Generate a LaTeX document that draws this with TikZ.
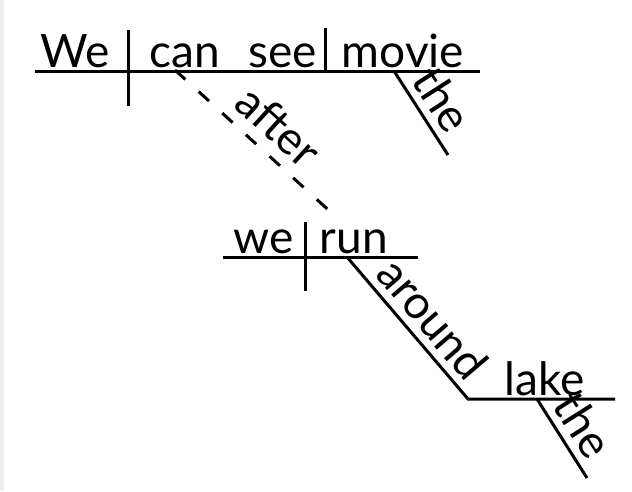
\documentclass[tikz,border=0pt]{standalone}
\usepackage{fontspec}
\setmainfont{Lato}
\begin{document}
\begin{tikzpicture}[x=1pt,y=-1pt,
  rule/.style={line width=3pt},
  dashrule/.style={line width=3pt,dash pattern=on 14pt off 18pt},
  word/.style={font=\fontsize{46}{54}\selectfont,inner sep=0pt,anchor=base},
  slword/.style={font=\fontsize{46}{54}\selectfont,inner sep=0pt,sloped,above=7pt}]
\useasboundingbox[fill=white] (0,0) rectangle (632,491);
\fill[black!7] (0,0) rectangle (4,491);
% main clause
\coordinate (tl) at (35,71);
\coordinate (tr) at (480,71);
\coordinate (v1t) at (128,30);
\coordinate (v1b) at (128,106);
\coordinate (v2t) at (325,28);
\coordinate (v2b) at (325,71);
\coordinate (the1a) at (394,71);
\coordinate (the1b) at (448,155);
\draw[rule] (the1a) -- (the1b) node[slword,pos=0.5] (the1) {the};
\draw[rule] (tl) -- (tr);
\draw[rule] (v1t) -- (v1b);
\draw[rule] (v2t) -- (v2b);
\node[word] (We) at (75,67) {We};
\node[word] (can) at (185,67) {can};
\node[word] (see) at (283,67) {see};
\node[word] (movie) at (403,67) {movie};
% subordinate connector
\coordinate (afa) at (175,70);
\coordinate (afb) at (335,216);
\draw[dashrule] (afa) -- (afb) node[slword,pos=0.53,above=3pt] (after) {after};
% subordinate clause
\coordinate (sl) at (223,257);
\coordinate (sr) at (418,257);
\coordinate (v3t) at (305,222);
\coordinate (v3b) at (305,291);
\draw[rule] (sl) -- (sr);
\draw[rule] (v3t) -- (v3b);
\node[word] (we) at (264,253) {we};
\node[word] (run) at (354,253) {run};
\coordinate (ara) at (347,257);
\coordinate (arb) at (468,399);
\coordinate (lr) at (615,399);
\draw[rule] (ara) -- (arb) node[slword,pos=0.55] (around) {around} -- (lr);
\node[word] (lake) at (545,395) {lake};
\coordinate (the2a) at (537,399);
\coordinate (the2b) at (587,478);
\draw[rule] (the2a) -- (the2b) node[slword,pos=0.5] (the2) {the};
\end{tikzpicture}
\end{document}
